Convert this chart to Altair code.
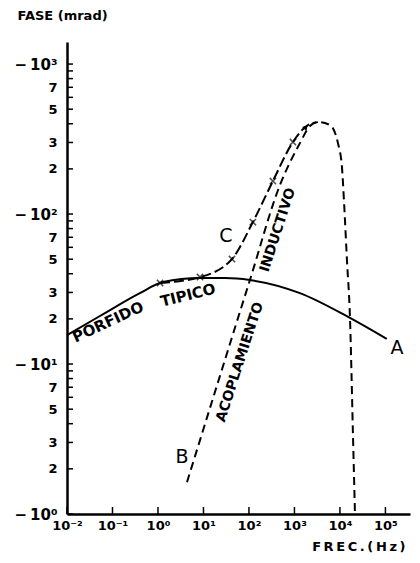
import altair as alt
import pandas as pd

# ---------------- data (frequency in Hz, phase magnitude in mrad; phase is negative) -------------
# Curve A: "PORFIDO TIPICO"
a_freq = [0.01, 0.053, 0.40, 1.29, 8.4, 29.6, 105, 1320, 16600, 107000]
a_phase = [15.6, 20.9, 29.7, 35.2, 37.4, 37.4, 36.3, 29.7, 20.3, 14.7]

# Curve B: "ACOPLAMIENTO INDUCTIVO" (dashed, peaks then falls to the axis)
b_freq = [4.34, 105, 480, 1320, 2190, 3280, 6030, 9040, 11070, 12240, 14260, 16600, 19300, 21400]
b_phase = [1.63, 36.3, 156, 297, 386, 410, 392, 297, 206, 124, 49.4, 20.6, 3.47, 1.0]

# Curve C: combined response (dashed with x markers)
c_freq = [1.11, 8.4, 42.3, 122, 336, 927, 1980, 3280]
c_phase = [34.7, 38.0, 50.1, 88.4, 166, 302, 392, 410]
c_mark_freq = [1.11, 8.4, 42.3, 122, 336, 927]
c_mark_phase = [34.7, 38.0, 50.1, 88.4, 166, 302]
c_arrow_freq = [1790]
c_arrow_phase = [380]

# Axis ticks and labels
x_tick_vals = [0.01, 0.1, 1, 10, 100, 1000, 10000, 100000]
x_tick_labels = ["10⁻²", "10⁻¹", "10⁰", "10¹", "10²", "10³", "10⁴", "10⁵"]
y_label_vals = [1, 2, 3, 5, 7, 10, 20, 30, 50, 70, 100, 200, 300, 500, 700, 1000]
y_label_text = ["−\u200910⁰", "2", "3", "5", "7", "−\u200910¹", "2", "3", "5", "7",
                "−\u200910²", "2", "3", "5", "7", "−\u200910³"]
y_decades = [1, 10, 100, 1000]
y_minor_ticks = [1, 2, 3, 4, 5, 6, 7, 8, 9, 10, 20, 30, 40, 50, 60, 70, 80, 90,
                 100, 200, 300, 400, 500, 600, 700, 800, 900, 1000]

# Annotations (text, freq, phase, angle, size)
ann_text = ["PORFIDO", "TIPICO", "ACOPLAMIENTO", "INDUCTIVO", "A", "B", "C"]
ann_freq = [0.0796, 4.56, 63.4, 434, 179000, 3.37, 31.3]
ann_phase = [19.05, 28.8, 10.3, 78.2, 12.8, 2.40, 71.3]
ann_angle = [335, 346, 288, 288, 0, 0, 0]
ann_size = [15, 15, 14, 14, 19, 19, 19]
ann_weight = ["bold", "bold", "bold", "bold", "normal", "normal", "normal"]

# ---------------- chart ----------------
W, H = 343, 472
FONT = "DejaVu Sans"
TS = "\u2009"

xscale = alt.Scale(type="log", domain=[0.01, 347000], nice=False)
yscale = alt.Scale(type="log", domain=[1, 1403], nice=False)

def expr_from(vals, texts):
    parts = [f"datum.value == {v} ? '{t}'" for v, t in zip(vals, texts)]
    return " : ".join(parts) + " : ''"

decade_test = " || ".join(f"datum.value == {v}" for v in y_decades)

x_axis = alt.Axis(values=x_tick_vals, labelExpr=expr_from(x_tick_vals, x_tick_labels),
                  ticks=False, grid=False, domain=True, domainColor="black", domainWidth=2.5,
                  labelFont=FONT, labelFontWeight="bold", labelFontSize=13,
                  labelColor="black", labelPadding=5, labelOverlap=False, labelFlush=False,
                  title=TS.join("FREC.(Hz)"), titleFont=FONT, titleFontWeight="bold",
                  titleFontSize=13,
                  titleAlign="right", titleX=338, titleY=32, titleBaseline="middle",
                  titleColor="black")
y_axis = alt.Axis(values=y_label_vals, labelExpr=expr_from(y_label_vals, y_label_text),
                  ticks=False, grid=False, domain=True, domainColor="black", domainWidth=2.5,
                  labelFont=FONT, labelFontWeight="bold",
                  labelFontSize={"condition": {"test": decade_test, "value": 15}, "value": 13},
                  labelColor="black", labelPadding=10, labelOverlap=False, labelFlush=False,
                  title="FASE (mrad)", titleFont=FONT, titleFontWeight="bold", titleFontSize=13,
                  titleAngle=0, titleAlign="left", titleX=-50, titleY=-27,
                  titleBaseline="middle", titleColor="black")

X = alt.X("f:Q", scale=xscale, axis=x_axis)
Y = alt.Y("p:Q", scale=yscale, axis=y_axis)

dfA = pd.DataFrame({"f": a_freq, "p": a_phase})
dfB = pd.DataFrame({"f": b_freq, "p": b_phase})
dfC = pd.DataFrame({"f": c_freq, "p": c_phase})
dfCm = pd.DataFrame({"f": c_mark_freq, "p": c_mark_phase})
dfArr = pd.DataFrame({"f": c_arrow_freq, "p": c_arrow_phase})

lineA = alt.Chart(dfA).mark_line(color="black", strokeWidth=2, interpolate="monotone").encode(x=X, y=Y)
lineB = alt.Chart(dfB).mark_line(color="black", strokeWidth=2, strokeDash=[8, 5],
                                 interpolate="monotone").encode(x=X, y=Y)
lineC = alt.Chart(dfC).mark_line(color="black", strokeWidth=2, strokeDash=[10, 4],
                                 interpolate="monotone").encode(x=X, y=Y)
marksC = alt.Chart(dfCm).mark_point(shape="M-1,-1L1,1M-1,1L1,-1", color="black",
                                    strokeWidth=1.5, size=40, filled=False).encode(x=X, y=Y)
arrowC = alt.Chart(dfArr).mark_point(shape="triangle-up", color="black", filled=True,
                                     size=35, angle=42, opacity=1).encode(x=X, y=Y)

yt = alt.Chart(pd.DataFrame({"p": y_minor_ticks})).mark_rule(color="black", strokeWidth=1.5).encode(
    y=Y, x=alt.value(0), x2=alt.value(6),
)
xt = alt.Chart(pd.DataFrame({"f": x_tick_vals})).mark_rule(color="black", strokeWidth=1.5).encode(
    x=X, y=alt.value(H), y2=alt.value(H - 7),
)

layers = [lineA, lineB, lineC, marksC, arrowC, yt, xt]
for t, f, p, a, s, w in zip(ann_text, ann_freq, ann_phase, ann_angle, ann_size, ann_weight):
    d = pd.DataFrame({"f": [f], "p": [p], "label": [t]})
    layers.append(
        alt.Chart(d).mark_text(angle=a, fontSize=s, font=FONT, fontWeight=w, color="black",
                               align="center", baseline="middle").encode(
            x=X, y=Y, text="label:N",
        )
    )

chart = alt.layer(*layers).properties(
    width=W, height=H,
    autosize=alt.AutoSizeParams(type="none"),
    padding={"left": 59, "top": 34, "right": 2, "bottom": 41},
    background="white",
).configure_view(stroke=None)

chart.save("out.html", embed_options={"renderer": "svg", "actions": False})
